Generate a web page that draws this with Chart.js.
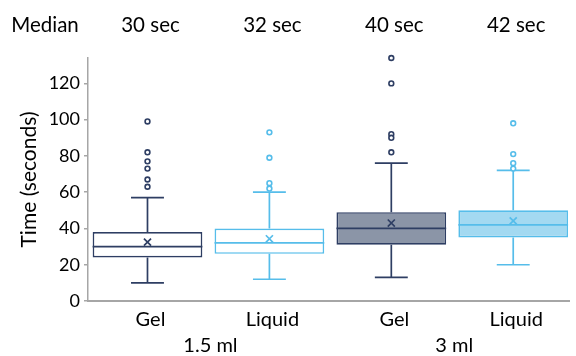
<!DOCTYPE html>
<html>
<head>
<meta charset="utf-8">
<script src="https://cdn.jsdelivr.net/npm/chart.js@4.4.0/dist/chart.umd.min.js"></script>
<style>
  html, body { margin: 0; padding: 0; background: #ffffff; }
  #wrap { width: 576px; height: 356px; }
</style>
</head>
<body>
<div id="wrap"><canvas id="c" width="576" height="356"></canvas></div>
<script>
// ---- data ----
const categories = ['Gel', 'Liquid', 'Gel', 'Liquid'];
const groups = ['1.5 ml', '3 ml'];
const medianLabels = ['30 sec', '32 sec', '40 sec', '42 sec'];
const q1 = [24, 26, 31, 35];
const q3 = [38, 40, 49, 50];
const medians = [30, 32, 40, 42];
const means = [32.5, 34.3, 43, 44.2];
const whiskerLow = [10, 12, 13, 20];
const whiskerHigh = [57, 60, 76, 72];
const outliers = [
  [99, 82, 77, 73, 67, 63],
  [93, 79, 65, 62],
  [134, 120, 92, 90, 82],
  [98, 81, 76, 73]
];
const yTicks = [0, 20, 40, 60, 80, 100, 120];

// ---- styles ----
const navy = '#2E3E63';
const sky = '#56BDEA';
const strokeColors = [navy, sky, navy, sky];
const fillColors = ['#FFFFFF', '#FFFFFF', '#8B95A7', '#A3D9F1'];
const axisGrey = '#A6A6A6';
const FONT = 'Lato';

const xMin = 0.512, xMax = 4.46;

const outlierPoints = [];
const outlierColors = [];
outliers.forEach((arr, i) => arr.forEach(v => { outlierPoints.push({x: i + 1, y: v}); outlierColors.push(strokeColors[i]); }));

const boxPlugin = {
  id: 'boxExtras',
  beforeDatasetsDraw(chart) {
    const ctx = chart.ctx, xs = chart.scales.x, ys = chart.scales.y;
    const step = xs.getPixelForValue(2) - xs.getPixelForValue(1);
    const cap = step * 0.135;
    ctx.save();
    ctx.lineWidth = 1.7;
    categories.forEach((c, i) => {
      const x = xs.getPixelForValue(i + 1);
      ctx.strokeStyle = strokeColors[i];
      ctx.beginPath();
      ctx.moveTo(x, ys.getPixelForValue(q3[i]));
      ctx.lineTo(x, ys.getPixelForValue(whiskerHigh[i]));
      ctx.moveTo(x, ys.getPixelForValue(q1[i]));
      ctx.lineTo(x, ys.getPixelForValue(whiskerLow[i]));
      const yh = ys.getPixelForValue(whiskerHigh[i]);
      const yl = ys.getPixelForValue(whiskerLow[i]);
      ctx.moveTo(x - cap, yh); ctx.lineTo(x + cap, yh);
      ctx.moveTo(x - cap, yl); ctx.lineTo(x + cap, yl);
      ctx.stroke();
    });
    ctx.restore();
  },
  afterDatasetDraw(chart, args) {
    if (args.index !== 0) return;
    const ctx = chart.ctx, xs = chart.scales.x, ys = chart.scales.y;
    const meta = chart.getDatasetMeta(0);
    ctx.save();
    ctx.lineWidth = 1.7;
    categories.forEach((c, i) => {
      const bar = meta.data[i];
      const half = bar.width / 2;
      const x = xs.getPixelForValue(i + 1);
      const y = ys.getPixelForValue(medians[i]);
      ctx.strokeStyle = strokeColors[i];
      ctx.beginPath();
      ctx.moveTo(x - half, y); ctx.lineTo(x + half, y);
      ctx.stroke();
    });
    ctx.restore();
  },
  afterDraw(chart) {
    const ctx = chart.ctx, xs = chart.scales.x;
    ctx.save();
    ctx.font = '20.5px ' + FONT;
    ctx.fillStyle = '#000';
    ctx.textAlign = 'center';
    ctx.textBaseline = 'alphabetic';
    ctx.fillText('Median', 45, 32);
    medianLabels.forEach((t, i) => ctx.fillText(t, xs.getPixelForValue(i + 1) + 3, 32));
    ctx.restore();
  }
};

new Chart(document.getElementById('c'), {
  type: 'bar',
  data: {
    datasets: [
      {
        type: 'bar',
        data: categories.map((c, i) => ({x: i + 1, y: [q1[i], q3[i]]})),
        backgroundColor: fillColors,
        borderColor: strokeColors,
        borderWidth: 1.7,
        borderSkipped: false,
        barPercentage: 0.9,
        categoryPercentage: 1,
        xAxisID: 'x', yAxisID: 'y',
        order: 3
      },
      {
        type: 'scatter',
        data: means.map((m, i) => ({x: i + 1, y: m})),
        pointStyle: 'crossRot',
        radius: 5,
        borderWidth: 1.7,
        borderColor: strokeColors,
        backgroundColor: strokeColors,
        xAxisID: 'x', yAxisID: 'y',
        clip: false,
        order: 2
      },
      {
        type: 'scatter',
        data: outlierPoints,
        pointStyle: 'circle',
        radius: 2.4,
        borderWidth: 1.6,
        borderColor: outlierColors,
        backgroundColor: '#FFFFFF',
        xAxisID: 'x', yAxisID: 'y',
        clip: false,
        order: 1
      }
    ]
  },
  options: {
    responsive: false,
    animation: false,
    devicePixelRatio: 1,
    layout: { padding: { top: 58, left: 0, right: 0, bottom: 0 } },
    plugins: { legend: { display: false }, tooltip: { enabled: false } },
    scales: {
      x: {
        type: 'linear', position: 'bottom', min: xMin, max: xMax, offset: false,
        afterBuildTicks: s => { s.ticks = categories.map((c, i) => ({value: i + 1})); },
        ticks: {
          callback: v => categories[Math.round(v) - 1] || '',
          font: { family: FONT, size: 20 }, color: '#000', padding: 7,
          autoSkip: false, maxRotation: 0, labelOffset: 3
        },
        grid: { display: true, drawOnChartArea: false, drawTicks: false },
        border: { display: true, color: axisGrey, width: 2 },
        afterFit: s => { s.height = 30; }
      },
      x2: {
        type: 'linear', position: 'bottom', min: xMin, max: xMax, offset: false,
        afterBuildTicks: s => { s.ticks = groups.map((g, i) => ({value: 1.5 + 2 * i})); },
        ticks: {
          callback: v => groups[Math.round((v - 1.5) / 2)] || '',
          font: { family: FONT, size: 20 }, color: '#000', padding: -5,
          autoSkip: false, maxRotation: 0, labelOffset: 2
        },
        grid: { display: false },
        border: { display: false },
        afterFit: s => { s.height = 25; }
      },
      y: {
        type: 'linear', position: 'left', min: 0, max: 134,
        afterBuildTicks: s => { s.ticks = yTicks.map(v => ({value: v})); },
        ticks: { font: { family: FONT, size: 18 }, color: '#000', padding: 4 },
        grid: { display: true, drawOnChartArea: false, drawTicks: true, tickLength: 4, color: axisGrey, lineWidth: 1.5 },
        border: { display: true, color: axisGrey, width: 1.5 },
        title: { display: true, text: 'Time (seconds)', font: { family: FONT, size: 21 }, color: '#000', padding: { top: 17, bottom: 0 } },
        afterFit: s => { s.width = 88; }
      }
    }
  },
  plugins: [boxPlugin]
});
</script>
</body>
</html>
